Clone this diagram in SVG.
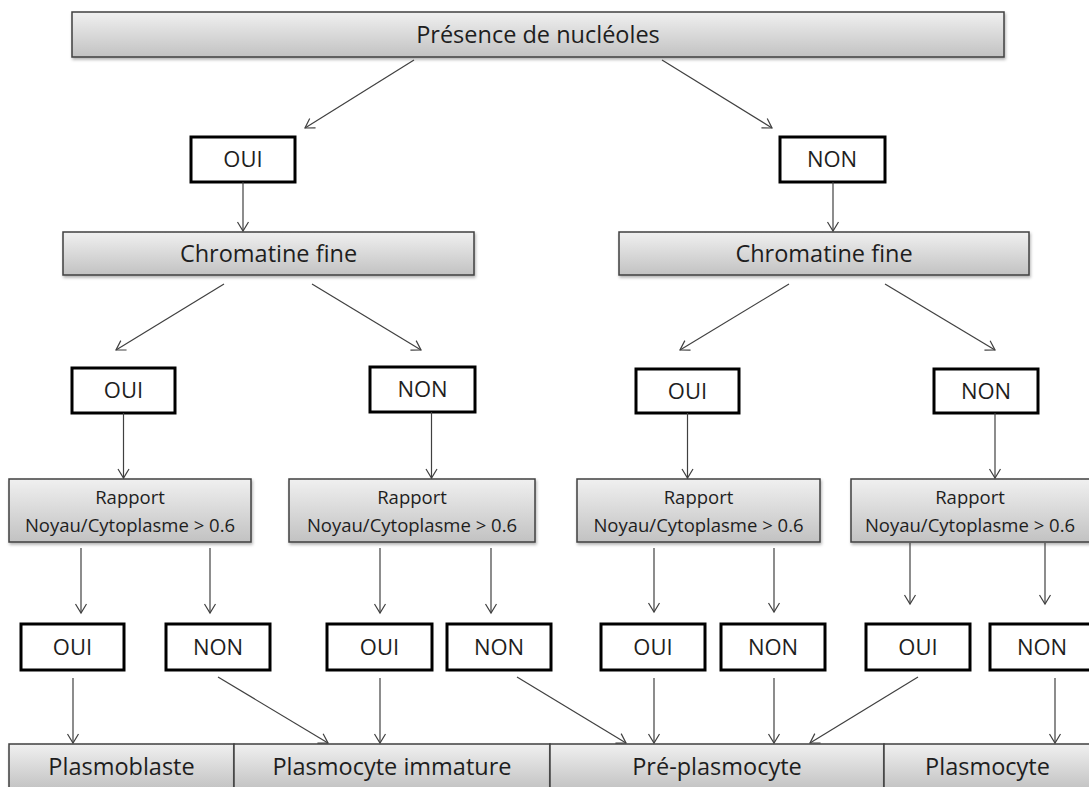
<svg xmlns="http://www.w3.org/2000/svg" width="1089" height="787" viewBox="0 0 1089 787">
  <defs>
    <linearGradient id="grey" x1="0" y1="0" x2="0" y2="1">
      <stop offset="0" stop-color="#f0f0f0"/>
      <stop offset="1" stop-color="#c2c2c2"/>
    </linearGradient>
    <filter id="shadow" x="-5%" y="-20%" width="110%" height="150%">
      <feDropShadow dx="1" dy="2" stdDeviation="1.5" flood-color="#000" flood-opacity="0.3"/>
    </filter>
    <marker id="arrow" markerUnits="userSpaceOnUse" markerWidth="14" markerHeight="14" viewBox="-10 -7 12 14" refX="0" refY="0" orient="auto">
      <path d="M-9,-5.5 L0,0 L-9,5.5" fill="none" stroke="#404040" stroke-width="1.2"/>
    </marker>
    <style>
      .g { fill: url(#grey); stroke: #404040; stroke-width: 1.5; filter: url(#shadow); }
      .b { fill: #fff; stroke: #000; stroke-width: 3; }
      .t { font-family: "Open Sans", "Liberation Sans", sans-serif; fill: #1e1e1e; text-anchor: middle; }
      .big { font-size: 23.5px; }
      .yn { font-size: 22px; }
      .sm { font-size: 18.5px; }
      .c line { stroke: #404040; stroke-width: 1.2; marker-end: url(#arrow); }
    </style>
  </defs>
  <rect width="1089" height="787" fill="#fff"/>

  <g id="presence">
    <rect class="g" x="72" y="12" width="932" height="45"/>
    <text class="t big" x="538" y="43">Présence de nucléoles</text>
  </g>

  <g id="oui-1">
    <rect class="b" x="191" y="137" width="104" height="45"/>
    <text class="t yn" x="243" y="167">OUI</text>
  </g>
  <g id="non-1">
    <rect class="b" x="780" y="137" width="105" height="45"/>
    <text class="t yn" x="832" y="167">NON</text>
  </g>

  <g id="chromatine-left">
    <rect class="g" x="63" y="232" width="411" height="43"/>
    <text class="t big" x="268.5" y="262">Chromatine fine</text>
  </g>
  <g id="chromatine-right">
    <rect class="g" x="619" y="232" width="410" height="43"/>
    <text class="t big" x="824" y="262">Chromatine fine</text>
  </g>

  <g id="oui-2a">
    <rect class="b" x="72" y="368" width="103" height="45"/>
    <text class="t yn" x="123.5" y="398">OUI</text>
  </g>
  <g id="non-2a">
    <rect class="b" x="370" y="367" width="105" height="45"/>
    <text class="t yn" x="422.5" y="397">NON</text>
  </g>
  <g id="oui-2b">
    <rect class="b" x="636" y="369" width="103" height="44"/>
    <text class="t yn" x="687.5" y="399">OUI</text>
  </g>
  <g id="non-2b">
    <rect class="b" x="934" y="369" width="104" height="44"/>
    <text class="t yn" x="986" y="399">NON</text>
  </g>

  <g id="rapport-1">
    <rect class="g" x="9" y="479" width="242" height="63"/>
    <text class="t sm" x="130" y="504">Rapport</text>
    <text class="t sm" x="130" y="532">Noyau/Cytoplasme &gt; 0.6</text>
  </g>
  <g id="rapport-2">
    <rect class="g" x="289" y="479" width="246" height="63"/>
    <text class="t sm" x="412" y="504">Rapport</text>
    <text class="t sm" x="412" y="532">Noyau/Cytoplasme &gt; 0.6</text>
  </g>
  <g id="rapport-3">
    <rect class="g" x="577" y="479" width="243" height="63"/>
    <text class="t sm" x="698.5" y="504">Rapport</text>
    <text class="t sm" x="698.5" y="532">Noyau/Cytoplasme &gt; 0.6</text>
  </g>
  <g id="rapport-4">
    <rect class="g" x="851" y="479" width="240" height="63"/>
    <text class="t sm" x="970" y="504">Rapport</text>
    <text class="t sm" x="970" y="532">Noyau/Cytoplasme &gt; 0.6</text>
  </g>

  <g id="oui-3a">
    <rect class="b" x="21" y="624" width="103" height="46"/>
    <text class="t yn" x="72.5" y="655">OUI</text>
  </g>
  <g id="non-3a">
    <rect class="b" x="166" y="624" width="104" height="46"/>
    <text class="t yn" x="218" y="655">NON</text>
  </g>
  <g id="oui-3b">
    <rect class="b" x="327" y="624" width="105" height="46"/>
    <text class="t yn" x="379.5" y="655">OUI</text>
  </g>
  <g id="non-3b">
    <rect class="b" x="447" y="624" width="104" height="46"/>
    <text class="t yn" x="499" y="655">NON</text>
  </g>
  <g id="oui-3c">
    <rect class="b" x="601" y="624" width="104" height="46"/>
    <text class="t yn" x="653" y="655">OUI</text>
  </g>
  <g id="non-3c">
    <rect class="b" x="721" y="624" width="104" height="46"/>
    <text class="t yn" x="773" y="655">NON</text>
  </g>
  <g id="oui-3d">
    <rect class="b" x="866" y="624" width="104" height="46"/>
    <text class="t yn" x="918" y="655">OUI</text>
  </g>
  <g id="non-3d">
    <rect class="b" x="990" y="624" width="104" height="46"/>
    <text class="t yn" x="1042" y="655">NON</text>
  </g>

  <g id="plasmoblaste">
    <rect class="g" x="9" y="744" width="225" height="46"/>
    <text class="t big" x="121.5" y="775">Plasmoblaste</text>
  </g>
  <g id="plasmocyte-immature">
    <rect class="g" x="234" y="744" width="316" height="46"/>
    <text class="t big" x="392" y="775">Plasmocyte immature</text>
  </g>
  <g id="pre-plasmocyte">
    <rect class="g" x="550" y="744" width="334" height="46"/>
    <text class="t big" x="717" y="775">Pré-plasmocyte</text>
  </g>
  <g id="plasmocyte">
    <rect class="g" x="884" y="744" width="208" height="46"/>
    <text class="t big" x="987.5" y="775">Plasmocyte</text>
  </g>

  <g id="connectors" class="c">
    <line x1="414" y1="60" x2="305" y2="128"/>
    <line x1="662" y1="60" x2="772" y2="128"/>
    <line x1="243" y1="182" x2="243" y2="231"/>
    <line x1="833" y1="182" x2="833" y2="231"/>
    <line x1="224" y1="284" x2="116" y2="350"/>
    <line x1="312" y1="284" x2="421" y2="350"/>
    <line x1="789" y1="284" x2="680" y2="350"/>
    <line x1="885" y1="284" x2="995" y2="350"/>
    <line x1="123.5" y1="413" x2="123.5" y2="478"/>
    <line x1="431.5" y1="412" x2="431.5" y2="478"/>
    <line x1="687.5" y1="413" x2="687.5" y2="478"/>
    <line x1="995" y1="413" x2="995" y2="478"/>
    <line x1="81" y1="548" x2="81" y2="613"/>
    <line x1="210" y1="548" x2="210" y2="613"/>
    <line x1="380" y1="548" x2="380" y2="613"/>
    <line x1="491" y1="548" x2="491" y2="613"/>
    <line x1="654" y1="548" x2="654" y2="612"/>
    <line x1="774" y1="548" x2="774" y2="612"/>
    <line x1="910" y1="543" x2="910" y2="604"/>
    <line x1="1045" y1="543" x2="1045" y2="604"/>
    <line x1="73" y1="678" x2="73" y2="743"/>
    <line x1="218" y1="677" x2="328" y2="743"/>
    <line x1="380" y1="678" x2="380" y2="743"/>
    <line x1="517" y1="677" x2="626" y2="743"/>
    <line x1="654" y1="678" x2="654" y2="743"/>
    <line x1="774" y1="678" x2="774" y2="743"/>
    <line x1="918" y1="677" x2="810" y2="743"/>
    <line x1="1055" y1="678" x2="1055" y2="743"/>
  </g>
</svg>
